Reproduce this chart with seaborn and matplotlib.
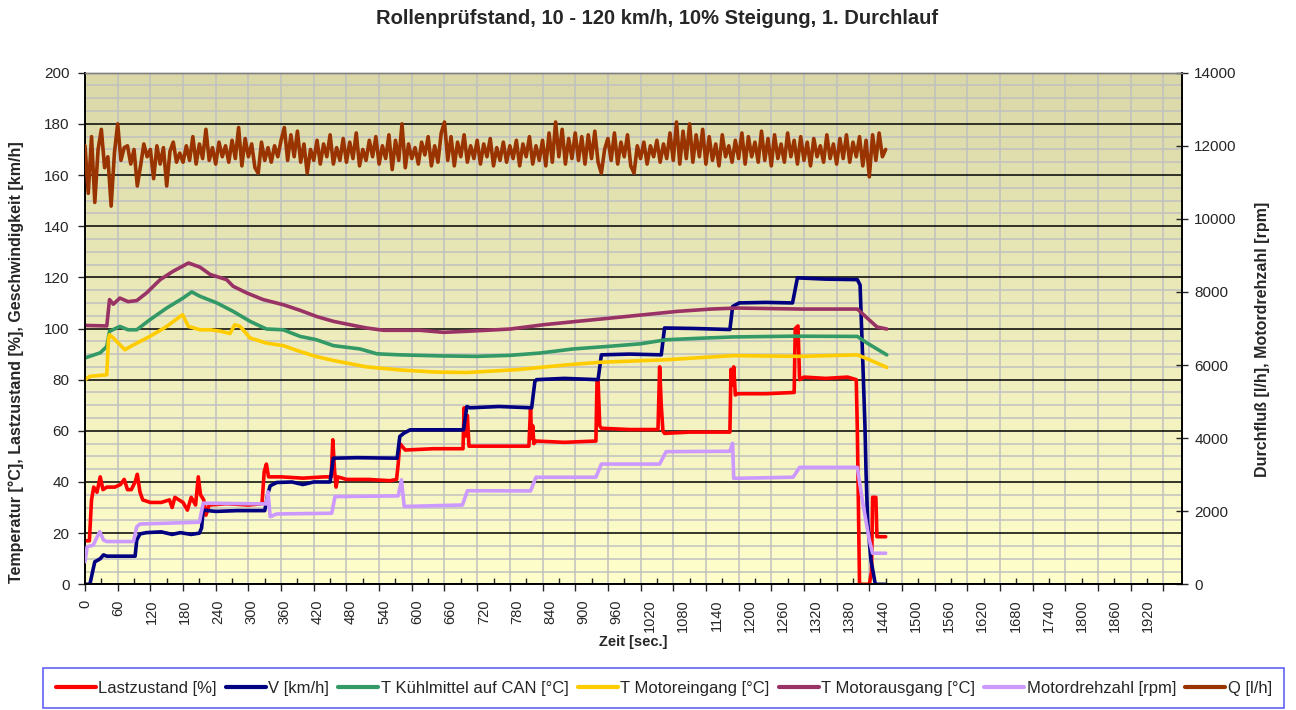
import numpy as np
import pandas as pd
import matplotlib
matplotlib.use("Agg")
import matplotlib.pyplot as plt
import matplotlib.transforms as mtransforms
from matplotlib.colors import LinearSegmentedColormap
import seaborn as sns

# --- values (time in s) ---
# Lastzustand [%]
last_t = [0, 8, 12, 16, 22, 28, 33, 40, 55, 65, 72, 78, 85, 92, 96, 101, 106, 120, 140, 155,
          160, 165, 180, 188, 195, 203, 208, 212, 218, 222, 228, 260, 300, 325, 329, 333, 337, 360, 400, 440,
          452, 455, 458, 461, 464, 480, 520, 560, 572, 575, 578, 582, 588, 640, 694, 696, 699, 702, 705, 740,
          780, 815, 818, 820, 822, 824, 828, 880, 938, 940, 942, 945, 948, 1000, 1052, 1055, 1058, 1061, 1064, 1110,
          1184, 1186, 1189, 1191, 1194, 1198, 1250, 1302, 1304, 1309, 1312, 1320, 1360, 1400, 1416, 1418, 1422, 1440, 1444, 1446,
          1452, 1454, 1470]
last_v = [17, 17, 33, 38, 36, 42, 37, 38, 38, 39, 41, 37, 37, 40, 43, 36, 33, 32, 32, 33,
          30, 34, 32, 29, 34, 31, 42, 35, 33, 27, 31, 31.5, 31, 31.5, 44, 47, 42, 42, 41.5, 42,
          42, 56.5, 45, 38, 42, 41, 41, 40.5, 41, 47, 55, 54, 52.5, 53, 53, 69, 58, 66, 54, 54,
          54, 54, 69, 57, 62, 55, 56, 55.5, 56, 79, 80, 62, 61, 60.5, 60.5, 85, 70, 60, 59, 59.5,
          59.5, 84, 78, 85, 74, 74.5, 74.5, 75, 100, 101, 80, 81, 80.5, 81, 80, 60, 0, 0, 5, 34,
          34, 18.6, 18.6]

# V [km/h]
v_t = [0, 9, 14, 18, 28, 34, 40, 60, 80, 92, 95, 101, 113, 140, 160, 175, 195, 210, 214, 217,
       240, 280, 330, 336, 340, 352, 380, 400, 420, 450, 456, 500, 573, 578, 585, 597, 650, 695, 701, 707,
       760, 820, 826, 829, 880, 942, 948, 1000, 1058, 1064, 1120, 1184, 1189, 1201, 1250, 1299, 1308, 1360, 1418, 1423,
       1428, 1432, 1434, 1437, 1443, 1451, 1469]
v_v = [0, 0, 5, 8.8, 10, 11.5, 11, 11, 11, 11, 17.3, 19.7, 20.2, 20.5, 19.5, 20.2, 19.5, 20, 22, 29,
       28.5, 28.8, 28.8, 35.6, 38.5, 39.8, 40, 39, 40, 40, 49.3, 49.5, 49.3, 57.8, 59, 60.4, 60.4, 60.4, 69.5, 69,
       69.5, 69, 79.3, 80, 80.5, 80, 89.7, 90, 89.7, 100.2, 100, 99.6, 108.6, 110, 110.2, 110, 119.8, 119.3, 119.1, 117,
       87, 61.7, 43.5, 24, 9.5, 0, 0]

# T Kühlmittel auf CAN [°C]
kuehl_t = [0, 28, 40, 45, 64, 79, 95, 119, 150, 180, 196, 211, 242, 272, 303, 333, 364, 395, 425, 456,
           505, 536, 578, 650, 719, 780, 835, 896, 960, 1019, 1067, 1130, 1190, 1300, 1418, 1436, 1472]
kuehl_v = [88.5, 90.5, 93, 98.9, 100.8, 99.5, 99.5, 103.4, 108, 111.9, 114.3, 112.6, 110, 106.7, 102.8, 99.8, 99.5, 96.9, 95.6, 93.3,
           92, 90.1, 89.7, 89.3, 89.1, 89.5, 90.4, 92, 93, 94, 95.6, 96.2, 96.7, 97, 96.9, 94.3, 89.7]

# T Motoreingang [°C]
ein_t = [0, 9, 40, 43, 45, 52, 73, 89, 119, 150, 179, 190, 211, 230, 250, 266, 275, 285, 303, 333,
         364, 395, 425, 456, 517, 578, 640, 701, 793, 885, 946, 1068, 1190, 1314, 1418, 1440, 1472]
ein_v = [80, 81.3, 81.9, 95.6, 97.6, 96.3, 91.7, 93.6, 96.9, 100.8, 105.4, 100.8, 99.5, 99.5, 98.9, 98, 101.5, 100.8, 96.3, 94.3,
         93.3, 91, 89, 87.5, 85, 83.8, 83, 82.8, 83.9, 85.8, 86.8, 87.8, 89.4, 89.1, 89.7, 87.8, 84.8]

# T Motorausgang [°C]
aus_t = [0, 40, 45, 52, 64, 79, 95, 113, 138, 162, 190, 211, 230, 260, 272, 297, 327, 364, 395, 425,
         456, 493, 517, 548, 615, 658, 701, 781, 843, 904, 966, 1027, 1088, 1149, 1198, 1314, 1418, 1436, 1454, 1472]
aus_v = [101.2, 101, 111.3, 109.5, 111.9, 110.5, 110.9, 113.9, 119.1, 122.4, 125.6, 124, 121.1, 119.1, 116.5, 113.9, 111.3, 109.3, 107.1, 104.7,
         102.8, 101.2, 100.2, 99.3, 99.3, 98.5, 98.9, 99.8, 101.5, 102.8, 104.1, 105.4, 106.7, 107.6, 108, 107.6, 107.6, 104.1, 100.6, 99.8]

# Motordrehzahl [rpm] (right axis)
n_t = [0, 4, 15, 27, 34, 40, 89, 95, 101, 210, 217, 333, 336, 340, 352, 453, 459, 575, 581, 586,
       693, 702, 818, 828, 938, 948, 1055, 1067, 1184, 1189, 1191, 1300, 1312, 1418, 1427, 1440, 1446, 1470]
n_v = [620, 1030, 1070, 1440, 1210, 1170, 1170, 1575, 1650, 1700, 2220, 2200, 2530, 1850, 1925, 1945, 2400, 2420, 2860, 2130,
       2170, 2560, 2555, 2930, 2930, 3290, 3290, 3630, 3640, 3860, 2900, 2930, 3200, 3200, 2310, 1210, 850, 850]

# Q [l/h] (right axis), one reading every 6 s
q_step = 6
q_v = [12000, 10700, 12250, 10450, 11900, 12450, 11400, 11700, 10350, 11800,
       12600, 11600, 11950, 12000, 11500, 11900, 10900, 11450, 12050, 11700,
       11900, 11100, 12000, 11500, 11950, 10900, 11850, 12100, 11550, 11800,
       11550, 12000, 11600, 12250, 11500, 12050, 11650, 12450, 11600, 11950,
       11500, 12100, 11700, 12000, 11550, 12150, 11650, 12500, 11450, 12200,
       11700, 12050, 11400, 11250, 12100, 11600, 11950, 11550, 12000, 11700,
       12150, 12500, 11600, 12300, 11700, 12400, 11550, 12050, 11250, 11900,
       11600, 12150, 11500, 12050, 11700, 12300, 11500, 11950, 11600, 12200,
       11550, 12100, 11650, 12350, 11450, 11900, 11600, 12150, 11700, 12250,
       11500, 12000, 11650, 12300, 11350, 12150, 11600, 12600, 11400, 12050,
       11650, 11950, 11500, 12100, 11750, 12250, 11450, 12000, 11550, 12350,
       12650, 11600, 12250, 11450, 12100, 11700, 12300, 11550, 12000, 11650,
       12150, 11500, 12050, 11700, 12200, 11450, 11950, 11600, 12100, 11550,
       12000, 11650, 12150, 11450, 12050, 11700, 12250, 11500, 12000, 11600,
       12150, 11450, 12350, 11550, 12650, 11700, 12450, 11500, 12200, 11650,
       12350, 11600, 12250, 11500, 12300, 11650, 12400, 11550, 11250, 11900,
       12200, 11600, 12350, 11500, 12100, 11700, 12300, 11450, 11250, 12000,
       11650, 12100, 11500, 12000, 11700, 12150, 11550, 12050, 11650, 12350,
       11600, 12650, 11500, 12400, 11650, 12600, 11550, 12300, 11700, 12450,
       11500, 12250, 11600, 12050, 11450, 12300, 11700, 12000, 11550, 12150,
       11650, 12350, 11500, 12250, 11700, 12100, 11550, 12400, 11600, 12200,
       11450, 12300, 11650, 12050, 11550, 12350, 11700, 12150, 11500, 12250,
       11600, 12100, 11450, 12200, 11700, 12000, 11550, 12300, 11650, 12050,
       11500, 12200, 11650, 12300, 11550, 12100, 11700, 12250, 11450, 12150,
       11150, 12300, 11600, 12350, 11700, 11900]
q_t = [i * q_step for i in range(len(q_v))]

left_series = [
    ("Lastzustand [%]", last_t, last_v, "#FF0000"),
    ("V [km/h]", v_t, v_v, "#000080"),
    ("T Kühlmittel auf CAN [°C]", kuehl_t, kuehl_v, "#339966"),
    ("T Motoreingang [°C]", ein_t, ein_v, "#FFCC00"),
    ("T Motorausgang [°C]", aus_t, aus_v, "#993366"),
]
right_series = [
    ("Motordrehzahl [rpm]", n_t, n_v, "#CC99FF"),
    ("Q [l/h]", q_t, q_v, "#993300"),
]

sns.set_style("white")
plt.rcParams["font.family"] = ["Liberation Sans", "DejaVu Sans"]

W, H = 1296, 710
fig = plt.figure(figsize=(W / 100, H / 100), dpi=100)
x0, x1, y0, y1 = 85, 1181.7, 72.7, 584.3
ax = fig.add_axes([x0 / W, 1 - y1 / H, (x1 - x0) / W, (y1 - y0) / H])
ax2 = ax.twinx()

xmax = 2013.5

# gradient plot area like the Excel fill
bg = LinearSegmentedColormap.from_list("bg", ["#FFFFCC", "#DAD8A8"])
ax.imshow(np.linspace(0, 1, 256).reshape(-1, 1), cmap=bg, origin="lower",
          extent=(0, xmax, 0, 200), aspect="auto", zorder=0)

lw = 2.6
for name, t, v, col in left_series:
    df = pd.DataFrame({"t": t, "v": v})
    sns.lineplot(data=df, x="t", y="v", ax=ax, color=col, linewidth=lw,
                 label=name, legend=False, sort=False, zorder=3)
for name, t, v, col in right_series:
    df = pd.DataFrame({"t": t, "v": v})
    sns.lineplot(data=df, x="t", y="v", ax=ax2, color=col, linewidth=lw,
                 label=name, legend=False, sort=False, zorder=3)

ax.set_xlim(0, xmax)
ax.set_ylim(0, 200)
ax2.set_ylim(0, 14000)

# ticks and grid
xt = np.arange(0, 1981, 60)
ax.set_xticks(xt)
ax.set_xticklabels([str(t) if t <= 1920 else "" for t in xt])
ax.set_xticks(np.arange(30, 1981, 60), minor=True)
ax.set_yticks(np.arange(0, 201, 20))
ax.set_yticks([v for v in range(0, 201, 5) if v % 20], minor=True)
ax2.set_yticks(np.arange(0, 14001, 2000))

ax.set_axisbelow(True)
ax.grid(False)
ax.grid(which="major", axis="x", color="#C0C0C0", linewidth=1.1)
ax.grid(which="minor", axis="y", color="#C0C0C0", linewidth=1.1)
ax.grid(which="major", axis="y", color="black", linewidth=1.1)
ax2.grid(False)

ax.tick_params(axis="x", which="major", direction="out", length=5, width=1,
               labelsize=10.5, labelrotation=90, pad=6, bottom=True)
ax.tick_params(axis="x", which="minor", direction="in", length=4, width=1, bottom=True)
ax.tick_params(axis="y", which="major", direction="out", length=5, width=1,
               labelsize=11, pad=6, left=True)
ax.tick_params(axis="y", which="minor", length=0)
ax2.tick_params(axis="y", direction="inout", length=8, width=1, labelsize=11, pad=5, right=True)

# Excel spreads the rotated labels slightly wider than the grid
for k, lab in enumerate(ax.get_xticklabels()):
    off = mtransforms.ScaledTranslation(k * 0.55 / 100, 0, fig.dpi_scale_trans)
    lab.set_transform(lab.get_transform() + off)

for a in (ax, ax2):
    for s in ("left", "right", "bottom"):
        a.spines[s].set_color("black")
        a.spines[s].set_linewidth(1.2)
    a.spines["top"].set_color("#808080")
    a.spines["top"].set_linewidth(1)

ax.set_xlabel("Zeit [sec.]", fontsize=10.5, fontweight="bold")
ax.set_ylabel("Temperatur [°C], Lastzustand [%], Geschwindigkeit [km/h]",
              fontsize=11.5, fontweight="bold")
ax2.set_ylabel("Durchfluß [l/h], Motordrehzahl [rpm]", fontsize=11.5, fontweight="bold")
ax.xaxis.set_label_coords(0.5, -0.10)
ax.yaxis.set_label_coords(-0.056, 0.435)
ax2.yaxis.set_label_coords(1.067, 0.478)

fig.text(657 / W, 1 - 18 / H, "Rollenprüfstand, 10 - 120 km/h, 10% Steigung, 1. Durchlauf",
         ha="center", va="center", fontsize=14.5, fontweight="bold")

h1, l1 = ax.get_legend_handles_labels()
h2, l2 = ax2.get_legend_handles_labels()
leg = fig.legend(h1 + h2, l1 + l2, loc="upper left", bbox_to_anchor=(43 / W, 1 - 668 / H),
                 ncol=7, fontsize=12, frameon=True, fancybox=False, borderaxespad=0,
                 handlelength=2.4, handletextpad=0.15, columnspacing=0.55, borderpad=0.75)
leg.get_frame().set_edgecolor("#3A3AF0")
leg.get_frame().set_linewidth(1.2)
for line in leg.get_lines():
    line.set_linewidth(3)

fig.savefig("out.png", dpi=100)
